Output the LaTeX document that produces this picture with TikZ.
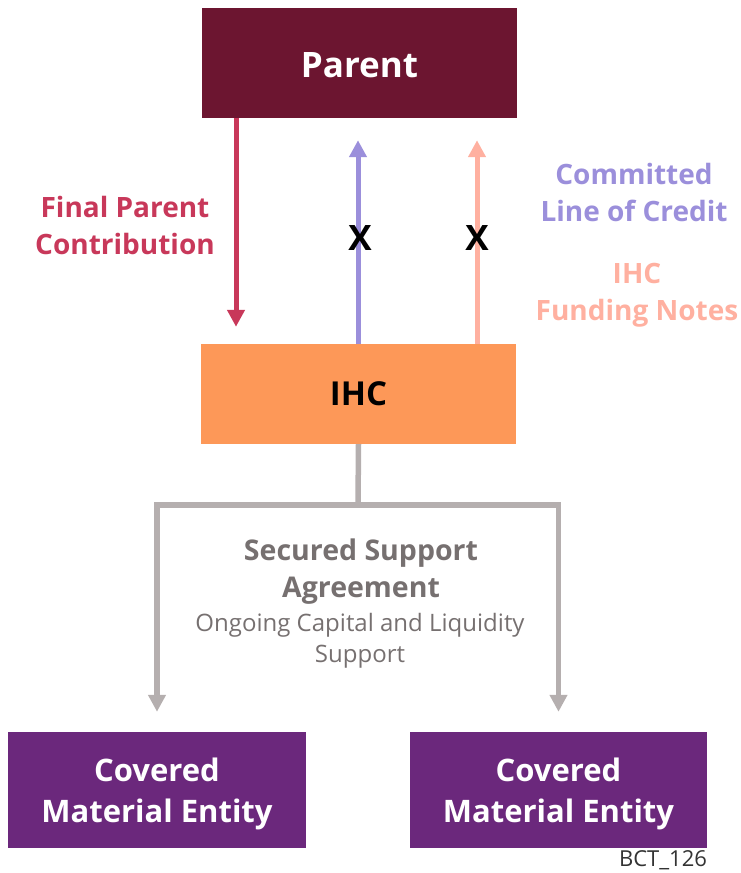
\documentclass[tikz,border=0pt]{standalone}
\usepackage{fontspec}
\setmainfont{Open Sans}
\usetikzlibrary{arrows.meta}
\definecolor{parentc}{HTML}{6C1530}
\definecolor{ihcc}{HTML}{FD9858}
\definecolor{cmec}{HTML}{6B287C}
\definecolor{fpcc}{HTML}{C8385A}
\definecolor{purpc}{HTML}{9B8FDB}
\definecolor{salmc}{HTML}{FFB0A0}
\definecolor{grayl}{HTML}{B5AFAF}
\definecolor{grayt}{HTML}{767070}
\tikzset{
  boxn/.style={inner sep=0pt, align=center, text=white},
  flow/.style={line width=5pt, -{Triangle[width=17pt,length=17pt]}},
  lbl/.style={align=center, font=\bfseries\fontsize{28}{37}\selectfont},
  xmark/.style={font=\bfseries\fontsize{35}{35}\selectfont, text=black, inner sep=0pt}
}
\begin{document}
\begin{tikzpicture}[x=1pt,y=-1pt]
\useasboundingbox (0,0) rectangle (741,873);
\node[boxn, fill=parentc, minimum width=315pt, minimum height=110pt, font=\bfseries\fontsize{35}{38}\selectfont] (parent) at (359.5,63) {\raisebox{-2pt}[\height][\depth]{Parent}};
\node[boxn, fill=ihcc, text=black, minimum width=315pt, minimum height=100pt, font=\bfseries\fontsize{33}{36}\selectfont] (ihc) at (358.5,394) {IHC};
\node[boxn, fill=cmec, minimum width=298pt, minimum height=116pt, font=\bfseries\fontsize{31}{41}\selectfont] (cme1) at (157,790) {\raisebox{-4pt}[\height][\depth]{Covered}\\ \raisebox{-4pt}[\height][\depth]{Material Entity}};
\node[boxn, fill=cmec, minimum width=297pt, minimum height=116pt, font=\bfseries\fontsize{31}{41}\selectfont] (cme2) at (558.5,790) {\raisebox{-4pt}[\height][\depth]{Covered}\\ \raisebox{-4pt}[\height][\depth]{Material Entity}};

\coordinate (cf) at (236,0);
\coordinate (cp) at (358,0);
\coordinate (cs) at (477,0);
\draw[flow, fpcc, shorten >=17pt] (cf |- parent.south) -- (cf |- ihc.north);
\draw[flow, purpc, shorten >=22pt] (cp |- ihc.north) -- (cp |- parent.south);
\draw[flow, salmc, shorten >=22pt] (cs |- ihc.north) -- (cs |- parent.south);
\node[xmark] (x1) at (360,238) {X};
\node[xmark] (x2) at (477,238) {X};

\node[lbl, text=fpcc] (fpcl) at (125,225) {Final Parent\\ Contribution};
\node[lbl, text=purpc] (cloc) at (634,192) {Committed\\ Line of Credit};
\node[lbl, text=salmc] (ihcf) at (637,295) {IHC\\ Funding Notes};

\coordinate (split) at (358,505);
\draw[line width=5.5pt, grayl] (ihc.south) -- (split);
\draw[flow, grayl, line width=5.5pt, shorten >=20pt] (split) -| (cme1.north);
\draw[flow, grayl, line width=5.5pt, shorten >=20pt] (split) -| (cme2.north);

\node[align=center, text=grayt, font=\bfseries\fontsize{28.5}{37}\selectfont] (ssa) at (361,572) {Secured Support\\ Agreement};
\node[align=center, text=grayt, font=\fontsize{24}{31}\selectfont] (ocl) at (360,641) {Ongoing Capital and Liquidity\\ Support};
\node[text=black!80, font=\fontsize{22}{22}\selectfont, inner sep=0pt] (bct) at (663,860) {BCT\_126};
\end{tikzpicture}
\end{document}
